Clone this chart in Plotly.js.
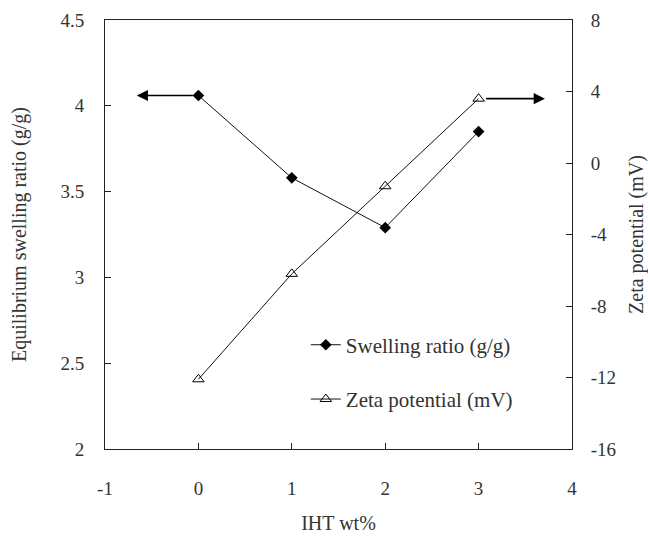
<!DOCTYPE html>
<html>
<head>
<meta charset="utf-8">
<script src="https://cdn.plot.ly/plotly-3.0.1.min.js"></script>
<style>html,body{margin:0;padding:0;background:#fff;}#chart{width:648px;height:539px;}</style>
</head>
<body>
<div id="chart"></div>
<script>
const iht = [0, 1, 2, 3];
const swelling = [4.06, 3.58, 3.29, 3.85];
const zeta = [-12.1, -6.2, -1.3, 3.6];
const xTicks = [-1, 0, 1, 2, 3, 4];
const yLeftTicks = [2, 2.5, 3, 3.5, 4, 4.5];
const yRightTicks = [-16, -12, -8, -4, 0, 4, 8];
const arrowLeftTip = -0.66;
const arrowRightTip = 3.71;

const FONT = "Liberation Serif, Times New Roman, serif";

const traces = [
  {x: iht, y: swelling, name: 'Swelling ratio (g/g)', type: 'scatter', mode: 'lines+markers',
   line: {color: '#111', width: 1}, marker: {symbol: 'diamond', size: 9, color: '#000'},
   legendgroup: 'a', yaxis: 'y'},
  {x: iht, y: zeta, name: 'Zeta potential (mV)', type: 'scatter', mode: 'lines+markers',
   line: {color: '#111', width: 1}, marker: {symbol: 'triangle-up-open', size: 10, color: '#000', line: {width: 1}},
   legendgroup: 'b', yaxis: 'y2'}
];

const layout = {
  width: 648, height: 539,
  margin: {l: 105, r: 76, t: 20, b: 90},
  paper_bgcolor: '#fff', plot_bgcolor: '#fff',
  font: {family: FONT, size: 19, color: '#333'},
  showlegend: true,
  legend: {x: 0.43, y: 0.29, xanchor: 'left', yanchor: 'top', bgcolor: 'rgba(0,0,0,0)',
           font: {family: FONT, size: 21, color: '#333'}, traceorder: 'grouped', tracegroupgap: 24,
           itemwidth: 30},
  xaxis: {range: [-1, 4], tickvals: xTicks, ticktext: xTicks.map(String),
          showgrid: false, zeroline: false, showline: true, linecolor: '#222', linewidth: 1,
          mirror: true, ticks: 'inside', ticklen: 6, tickcolor: '#222',
          ticklabelstandoff: 22,
          title: {text: 'IHT wt%', font: {family: FONT, size: 20}, standoff: 18}},
  yaxis: {range: [2, 4.5], tickvals: yLeftTicks, ticktext: yLeftTicks.map(String),
          showgrid: false, zeroline: false, showline: true, linecolor: '#222', linewidth: 1,
          ticks: 'inside', ticklen: 6, tickcolor: '#222', ticklabelstandoff: 16,
          title: {text: 'Equilibrium swelling ratio (g/g)', font: {family: FONT, size: 20}, standoff: 28}},
  yaxis2: {range: [-16, 8], tickvals: yRightTicks, ticktext: yRightTicks.map(String),
           overlaying: 'y', side: 'right',
           showgrid: false, zeroline: false, showline: true, linecolor: '#222', linewidth: 1,
           ticks: 'inside', ticklen: 6, tickcolor: '#222', ticklabelstandoff: 14,
           title: {text: 'Zeta potential (mV)', font: {family: FONT, size: 20}, standoff: 14}},
  annotations: [
    {x: arrowLeftTip, y: swelling[0], ax: iht[0], ay: swelling[0], xref: 'x', yref: 'y', axref: 'x', ayref: 'y',
     showarrow: true, arrowhead: 2, arrowsize: 1.4, arrowwidth: 1.6, arrowcolor: '#000', text: '', standoff: 0, startstandoff: 4},
    {x: arrowRightTip, y: zeta[3], ax: iht[3], ay: zeta[3], xref: 'x', yref: 'y2', axref: 'x', ayref: 'y2',
     showarrow: true, arrowhead: 2, arrowsize: 1.4, arrowwidth: 1.6, arrowcolor: '#000', text: '', standoff: 0, startstandoff: 6}
  ]
};

Plotly.newPlot('chart', traces, layout, {displayModeBar: false, staticPlot: true});
</script>
</body>
</html>
